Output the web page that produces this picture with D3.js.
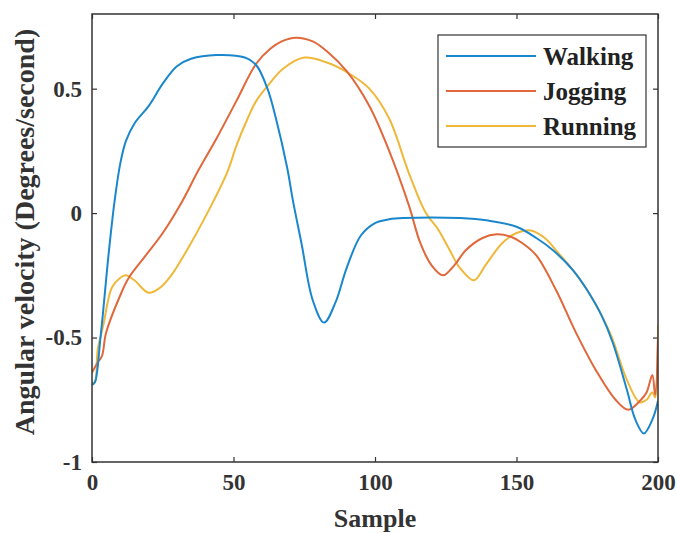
<!DOCTYPE html>
<html>
<head>
<meta charset="utf-8">
<script src="https://cdn.jsdelivr.net/npm/d3@7"></script>
<style>
  body { margin: 0; background: #fff; }
  text { font-family: "Liberation Serif", serif; }
</style>
</head>
<body>
<div id="chart"></div>
<script>
// sample positions and angular velocity values
var walkingX = [0, 1, 3, 6, 8, 10, 12, 15, 20, 25, 30, 35, 44, 54, 58, 62, 65, 69, 71, 74, 78, 82, 86, 90, 95, 100, 105, 110, 130, 140, 150, 157, 163, 170, 175, 180, 184, 189, 192, 195, 198, 200];
var walkingY = [-0.69, -0.68, -0.5, -0.15, 0.05, 0.2, 0.29, 0.36, 0.43, 0.52, 0.59, 0.62, 0.635, 0.625, 0.595, 0.5, 0.38, 0.18, 0.05, -0.12, -0.35, -0.44, -0.36, -0.22, -0.09, -0.04, -0.025, -0.02, -0.02, -0.03, -0.055, -0.1, -0.15, -0.23, -0.31, -0.41, -0.52, -0.71, -0.83, -0.885, -0.83, -0.755];

var joggingX = [0, 2, 3.5, 5, 10, 13, 19, 25, 32, 37.5, 44, 51, 58, 63, 67, 72, 78, 83, 90, 98, 105, 112, 116, 120, 124, 128, 132, 138, 143, 148, 152, 157, 164, 171, 178, 185, 189.5, 194, 196, 198, 199, 200];
var joggingY = [-0.64, -0.6, -0.575, -0.48, -0.33, -0.26, -0.17, -0.08, 0.05, 0.17, 0.3, 0.45, 0.6, 0.66, 0.69, 0.705, 0.69, 0.65, 0.57, 0.43, 0.25, 0.03, -0.12, -0.21, -0.25, -0.21, -0.15, -0.1, -0.085, -0.095, -0.12, -0.17, -0.31, -0.48, -0.63, -0.75, -0.79, -0.75, -0.72, -0.65, -0.73, -0.5];

var runningX = [0, 1, 2, 4, 7, 10, 12, 15, 20, 24, 28, 35, 43, 48, 51, 55, 58, 62, 67.5, 75, 83, 91, 98, 105, 112, 118, 122, 126, 130, 135, 139, 145, 150, 155, 160, 164, 170, 175, 183, 189, 193.5, 196, 198, 199, 200];
var runningY = [-0.68, -0.68, -0.55, -0.45, -0.3, -0.26, -0.25, -0.27, -0.32, -0.3, -0.25, -0.12, 0.05, 0.17, 0.27, 0.38, 0.45, 0.51, 0.58, 0.625, 0.605, 0.56, 0.5, 0.38, 0.16, 0.0, -0.06, -0.14, -0.22, -0.27, -0.21, -0.12, -0.08, -0.07, -0.1, -0.15, -0.23, -0.31, -0.48, -0.67, -0.76, -0.75, -0.72, -0.74, -0.45];

var seriesNames = ["Walking", "Jogging", "Running"];
var seriesColors = ["#1a87cc", "#e0683a", "#f0b83a"];
var xTicks = [0, 50, 100, 150, 200];
var yTicks = [-1, -0.5, 0, 0.5];
var xLabel = "Sample";
var yLabel = "Angular velocity (Degrees/second)";

var width = 677, height = 533;
var margin = {top: 14, right: 19, bottom: 71, left: 92};
var w = width - margin.left - margin.right,
    h = height - margin.top - margin.bottom;

var svg = d3.select("#chart").append("svg")
  .attr("width", width)
  .attr("height", height);

var g = svg.append("g")
  .attr("transform", "translate(" + margin.left + "," + margin.top + ")");

var x = d3.scaleLinear().domain([0, 200]).range([0, w]);
var y = d3.scaleLinear().domain([-1, 0.8]).range([h, 0]);

var fmt = function(d) { return String(d); };
var axisColor = "#333";

// axes with inward ticks, box on all four sides
function styleAxis(sel) {
  sel.select(".domain").remove();
  sel.selectAll(".tick line").attr("stroke", axisColor).attr("stroke-width", 1.2);
  sel.selectAll(".tick text")
    .attr("fill", "#333")
    .style("font-size", "23px")
    .style("font-weight", "bold");
}

g.append("g").attr("transform", "translate(0," + h + ")")
  .call(d3.axisBottom(x).tickValues(xTicks).tickFormat(fmt).tickSizeInner(-5).tickPadding(12))
  .call(styleAxis);
g.append("g")
  .call(d3.axisTop(x).tickValues(xTicks).tickFormat("").tickSizeInner(-5))
  .call(styleAxis);
g.append("g")
  .call(d3.axisLeft(y).tickValues(yTicks).tickFormat(fmt).tickSizeInner(-5).tickPadding(10))
  .call(styleAxis);
g.append("g").attr("transform", "translate(" + w + ",0)")
  .call(d3.axisRight(y).tickValues(yTicks).tickFormat("").tickSizeInner(-5))
  .call(styleAxis);

var line = d3.line()
  .x(function(d) { return x(d[0]); })
  .y(function(d) { return y(d[1]); })
  .curve(d3.curveCatmullRom.alpha(0.5));

var seriesData = [
  d3.zip(walkingX, walkingY),
  d3.zip(joggingX, joggingY),
  d3.zip(runningX, runningY)
];

g.append("defs").append("clipPath").attr("id", "clip")
  .append("rect").attr("width", w).attr("height", h);

// draw running first so walking sits on top like the original
[2, 1, 0].forEach(function(i) {
  g.append("path")
    .datum(seriesData[i])
    .attr("clip-path", "url(#clip)")
    .attr("fill", "none")
    .attr("stroke", seriesColors[i])
    .attr("stroke-width", 2)
    .attr("d", line);
});

g.append("rect")
  .attr("width", w).attr("height", h)
  .attr("fill", "none")
  .attr("stroke", axisColor)
  .attr("stroke-width", 1.5);

// legend
var legend = svg.append("g").attr("transform", "translate(438,35)");
legend.append("rect")
  .attr("width", 208).attr("height", 112)
  .attr("fill", "#fff")
  .attr("stroke", axisColor)
  .attr("stroke-width", 1.2);
seriesNames.forEach(function(name, i) {
  var ly = 21 + i * 35;
  legend.append("line")
    .attr("x1", 8).attr("x2", 98)
    .attr("y1", ly).attr("y2", ly)
    .attr("stroke", seriesColors[i])
    .attr("stroke-width", 2);
  legend.append("text")
    .attr("x", 105).attr("y", ly)
    .attr("dy", "0.35em")
    .attr("fill", "#222")
    .style("font-size", "25px")
    .style("font-weight", "bold")
    .text(name);
});

// axis labels
svg.append("text")
  .attr("x", margin.left + w / 2)
  .attr("y", 527)
  .attr("text-anchor", "middle")
  .attr("fill", "#333")
  .style("font-size", "26px")
  .style("font-weight", "bold")
  .text(xLabel);

svg.append("text")
  .attr("transform", "translate(34,232) rotate(-90)")
  .attr("text-anchor", "middle")
  .attr("fill", "#333")
  .style("font-size", "28px")
  .style("font-weight", "bold")
  .text(yLabel);
</script>
</body>
</html>
